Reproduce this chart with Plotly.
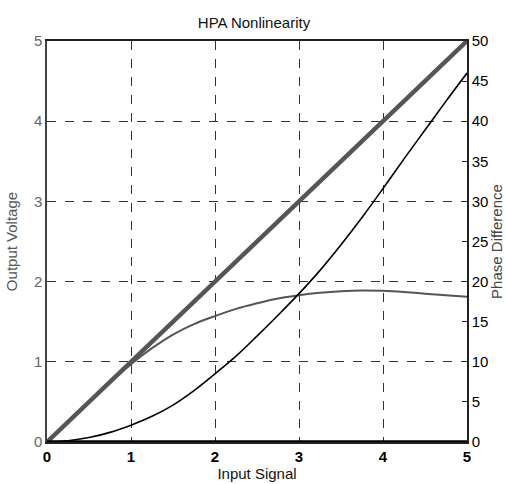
import plotly.graph_objects as go

# Data
x_lin = [0, 5]
y_lin = [0, 5]

x_am = [0, 0.25, 0.5, 0.75, 1.0, 1.25, 1.5, 1.75, 2.0, 2.25, 2.5, 2.75, 3.0, 3.25, 3.5, 3.75, 4.0, 4.25, 4.5, 4.75, 5.0]
y_am = [0, 0.25, 0.5, 0.74, 0.97, 1.17, 1.34, 1.47, 1.57, 1.66, 1.73, 1.79, 1.83, 1.86, 1.88, 1.89, 1.885, 1.87, 1.85, 1.83, 1.81]

x_pm = [0, 0.25, 0.5, 0.75, 1.0, 1.25, 1.5, 1.75, 2.0, 2.25, 2.5, 2.75, 3.0, 3.25, 3.5, 3.75, 4.0, 4.25, 4.5, 4.75, 5.0]
y_pm = [0, 0.15, 0.55, 1.2, 2.1, 3.2, 4.6, 6.4, 8.5, 10.7, 13.2, 15.8, 18.5, 21.4, 24.6, 28.0, 31.6, 35.3, 38.9, 42.5, 46.0]

x_zero = [0, 5]
y_zero = [0, 0]

x_ticks = [0, 1, 2, 3, 4, 5]
y_ticks = [0, 1, 2, 3, 4, 5]
y2_ticks = [0, 5, 10, 15, 20, 25, 30, 35, 40, 45, 50]

FONT = "Liberation Sans, Arial, sans-serif"

fig = go.Figure()
fig.add_trace(go.Scatter(x=x_am, y=y_am, mode="lines", line=dict(color="#555555", width=2, shape="spline"), showlegend=False))
fig.add_trace(go.Scatter(x=x_lin, y=y_lin, mode="lines", line=dict(color="#555555", width=4.5), showlegend=False))
fig.add_trace(go.Scatter(x=x_pm, y=y_pm, mode="lines", line=dict(color="#000000", width=1.6, shape="spline"), yaxis="y2", showlegend=False))
fig.add_trace(go.Scatter(x=x_zero, y=y_zero, mode="lines", line=dict(color="#000000", width=3.5), yaxis="y2", showlegend=False, cliponaxis=False))

fig.update_layout(
    width=506, height=484,
    margin=dict(l=47, r=39, t=41, b=42, autoexpand=False),
    paper_bgcolor="white", plot_bgcolor="white",
    font=dict(family=FONT, size=15, color="#000000"),
    title=dict(text="HPA Nonlinearity", x=0.502, xanchor="center", y=1 - 23 / 484, yanchor="middle",
               font=dict(family=FONT, size=15, color="#111111")),
    xaxis=dict(range=[0, 5], tickvals=x_ticks, ticktext=[f"<b>{v}</b>" for v in x_ticks],
               showgrid=True, gridcolor="#333333", griddash="dash", gridwidth=1,
               showline=True, linecolor="#222222", linewidth=1.5, mirror=True,
               ticks="", zeroline=False, automargin=False,
               tickfont=dict(family=FONT, size=15, color="#000000"),
               title=dict(text="Input Signal", font=dict(family=FONT, size=15, color="#111111"), standoff=4)),
    yaxis=dict(range=[0, 5], tickvals=y_ticks,
               showgrid=True, gridcolor="#333333", griddash="dash", gridwidth=1,
               showline=True, linecolor="#444444", linewidth=1.5,
               ticks="", zeroline=False, automargin=False,
               tickfont=dict(family=FONT, size=15, color="#666666"),
               title=dict(text="Output Voltage", font=dict(family=FONT, size=15, color="#555555"), standoff=13)),
    yaxis2=dict(range=[0, 50], tickvals=y2_ticks, overlaying="y", side="right",
                showgrid=False, showline=True, linecolor="#222222", linewidth=1.5,
                ticks="inside", ticklen=5, tickcolor="#222222", zeroline=False, automargin=False,
                ticklabelstandoff=0,
                tickfont=dict(family=FONT, size=15, color="#000000"),
                title=dict(text="Phase Difference", font=dict(family=FONT, size=15, color="#444444"), standoff=2)),
)

fig.write_html("out.html")
